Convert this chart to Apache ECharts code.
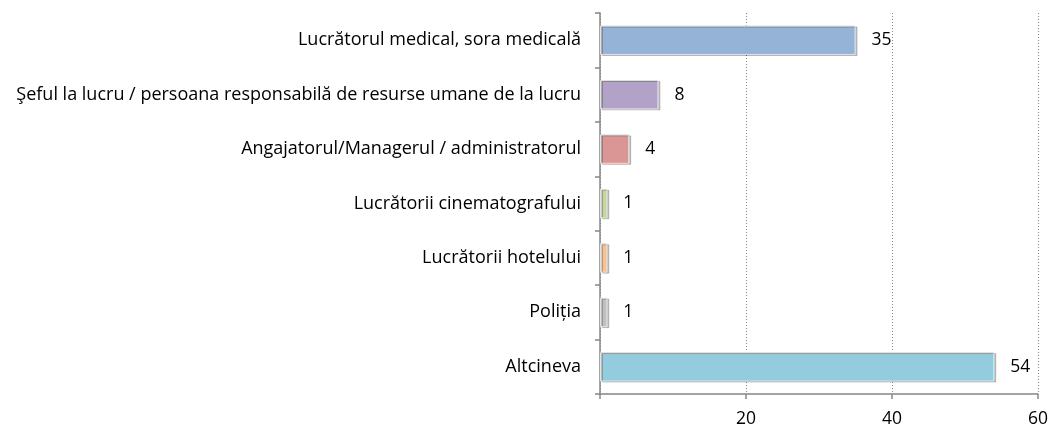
<!DOCTYPE html>
<html>
<head>
<meta charset="utf-8">
<script src="https://cdn.jsdelivr.net/npm/echarts@6/dist/echarts.min.js"></script>
<style>
  html, body { margin: 0; padding: 0; background: #fff; }
  #chart { width: 1051px; height: 430px; }
</style>
</head>
<body>
<div id="chart"></div>
<script>
// categorii de sus in jos
var categories = [
  'Lucrătorul medical, sora medicală',
  'Şeful la lucru / persoana responsabilă de resurse umane de la lucru',
  'Angajatorul/Managerul / administratorul',
  'Lucrătorii cinematografului',
  'Lucrătorii hotelului',
  'Poliția',
  'Altcineva'
]
var values = [35, 8, 4, 1, 1, 1, 54]
var barColors = ['#95b3d7', '#b3a2c7', '#d99694', '#c3d69b', '#fac090', '#bfbfbf', '#93cddd']
var xTicks = [0, 20, 40, 60]

var chart = echarts.init(document.getElementById('chart'))

var option = {
  animation: false,
  textStyle: { fontFamily: 'Open Sans' },
  grid: {
    left: 600,
    right: 13,
    top: 13,
    bottom: 36
  },
  xAxis: {
    type: 'value',
    min: xTicks[0],
    max: xTicks[xTicks.length - 1],
    interval: 20,
    axisLine: { show: true, lineStyle: { color: '#868686', width: 1.5 } },
    axisTick: { show: true, length: 5, lineStyle: { color: '#868686', width: 1.5 } },
    axisLabel: {
      color: '#000',
      fontSize: 17.5,
      margin: 16,
      formatter: function (v) { return v === 0 ? '' : v }
    },
    splitLine: { show: true, lineStyle: { color: '#868686', type: [1, 2], width: 1 } }
  },
  yAxis: {
    type: 'category',
    inverse: true,
    data: categories,
    axisLine: { show: true, lineStyle: { color: '#868686', width: 1.5 } },
    axisTick: { show: true, length: 5, lineStyle: { color: '#868686', width: 1.5 } },
    axisLabel: { color: '#000', fontSize: 18, margin: 19 }
  },
  series: [{
    type: 'bar',
    barCategoryGap: '46%',
    data: values.map(function (v, i) {
      return {
        value: v,
        itemStyle: {
          color: barColors[i],
          borderColor: '#e2e2e2',
          borderWidth: 1,
          shadowColor: 'rgba(0,0,0,0.22)',
          shadowOffsetX: 2,
          shadowOffsetY: 1
        }
      }
    }),
    label: {
      show: true,
      position: 'right',
      distance: 16,
      color: '#000',
      fontSize: 17.5
    }
  }]
}

chart.setOption(option)
</script>
</body>
</html>
